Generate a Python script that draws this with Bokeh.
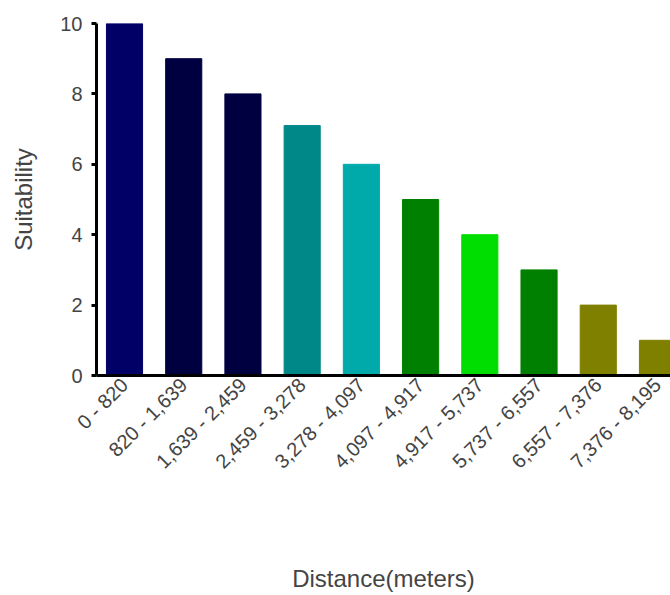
from bokeh.plotting import figure
from bokeh.models import FixedTicker, Range1d, ColumnDataSource
from bokeh.embed import file_html
from bokeh.resources import INLINE

categories = ["0 - 820", "820 - 1,639", "1,639 - 2,459", "2,459 - 3,278",
              "3,278 - 4,097", "4,097 - 4,917", "4,917 - 5,737",
              "5,737 - 6,557", "6,557 - 7,376", "7,376 - 8,195"]
suitability = [10, 9, 8, 7.1, 6, 5, 4, 3, 2, 1]
bar_colors = ["#000066", "#000040", "#000040", "#008888", "#00AAAA",
              "#008000", "#00DD00", "#008000", "#808000", "#808000"]
y_ticks = [0, 2, 4, 6, 8, 10]

idx = list(range(len(categories)))
src = ColumnDataSource(dict(x=idx, top=suitability, color=bar_colors, label=categories))

p = figure(width=670, height=595, output_backend="svg", toolbar_location=None,
           x_range=Range1d(-0.473, 9.22), y_range=Range1d(0, 10),
           min_border_left=96, min_border_right=0, min_border_top=23,
           min_border_bottom=10)
p.vbar(x="x", top="top", width=0.61, bottom=0, color="color", source=src)

p.xgrid.visible = False
p.ygrid.visible = False
p.outline_line_color = None

font = "Liberation Sans"
txt = "#444444"

p.xaxis.ticker = FixedTicker(ticks=idx)
p.xaxis.major_label_overrides = {i: c for i, c in zip(idx, categories)}
p.xaxis.major_label_orientation = 0.785398
p.xaxis.major_tick_out = 0
p.xaxis.major_tick_in = 0
p.xaxis.minor_tick_out = 0
p.xaxis.minor_tick_in = 0
p.xaxis.axis_line_width = 3
p.xaxis.axis_line_color = "black"
p.xaxis.axis_label = "Distance(meters)"
p.xaxis.axis_label_standoff = 82
p.xaxis.major_label_standoff = 6

p.yaxis.ticker = FixedTicker(ticks=y_ticks)
p.yaxis.major_tick_out = 5
p.yaxis.major_tick_in = 0
p.yaxis.major_tick_line_width = 3
p.yaxis.minor_tick_out = 0
p.yaxis.minor_tick_in = 0
p.yaxis.axis_line_width = 3
p.yaxis.axis_line_color = "black"
p.yaxis.axis_label = "Suitability"
p.yaxis.axis_label_standoff = 20
p.yaxis.major_label_standoff = 9

for ax in (p.xaxis, p.yaxis):
    ax.major_label_text_font = font
    ax.major_label_text_font_size = "20px"
    ax.major_label_text_color = txt
    ax.axis_label_text_font = font
    ax.axis_label_text_font_size = "24px"
    ax.axis_label_text_font_style = "normal"
    ax.axis_label_text_color = txt

open("out.html", "w").write(file_html(p, INLINE))
